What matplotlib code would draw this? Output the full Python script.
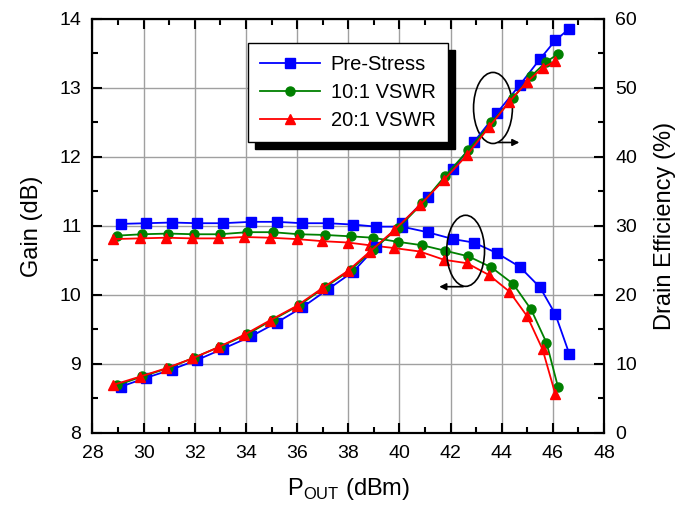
import matplotlib
matplotlib.use("Agg")
import matplotlib.pyplot as plt
from matplotlib.patches import Ellipse, Rectangle
from matplotlib.ticker import MultipleLocator

plt.rcParams['font.family'] = ['Liberation Sans', 'DejaVu Sans']
plt.rcParams['mathtext.fontset'] = 'custom'
plt.rcParams['mathtext.rm'] = 'Liberation Sans'

# Pre-Stress
pre_pout = [29.1, 30.1, 31.1, 32.1, 33.1, 34.2, 35.2, 36.2, 37.2, 38.2,
            39.1, 40.1, 41.1, 42.1, 42.9, 43.8, 44.7, 45.5, 46.1, 46.65]
pre_gain = [11.03, 11.04, 11.05, 11.04, 11.04, 11.06, 11.06, 11.04, 11.04, 11.02,
            10.99, 10.99, 10.91, 10.81, 10.76, 10.61, 10.41, 10.11, 9.72, 9.14]
pre_eff = [6.7, 8.0, 9.2, 10.6, 12.2, 14.0, 16.0, 18.2, 20.8, 23.4,
           27.0, 30.4, 34.2, 38.2, 42.1, 46.3, 50.4, 54.2, 56.9, 58.6]

# 10:1 VSWR
v10_pout = [28.95, 29.95, 30.96, 31.96, 32.98, 34.05, 35.04, 36.08, 37.08, 38.09,
            38.95, 39.95, 40.9, 41.8, 42.7, 43.6, 44.45, 45.15, 45.75, 46.2]
v10_gain = [10.86, 10.88, 10.89, 10.88, 10.88, 10.91, 10.91, 10.88, 10.87, 10.85,
            10.83, 10.77, 10.72, 10.64, 10.56, 10.40, 10.16, 9.79, 9.31, 8.67]
v10_eff = [6.9, 8.2, 9.4, 10.9, 12.5, 14.3, 16.4, 18.5, 21.1, 23.6,
           26.5, 29.7, 33.3, 37.3, 41.0, 45.0, 48.6, 51.7, 53.8, 54.9]

# 20:1 VSWR
v20_pout = [28.8, 29.85, 30.87, 31.9, 32.9, 33.92, 34.93, 35.98, 36.99, 37.99,
            38.85, 39.8, 40.8, 41.75, 42.65, 43.5, 44.3, 45.0, 45.6, 46.1]
v20_gain = [10.81, 10.82, 10.83, 10.82, 10.82, 10.84, 10.83, 10.81, 10.78, 10.76,
            10.72, 10.68, 10.63, 10.51, 10.46, 10.29, 10.05, 9.69, 9.21, 8.56]
v20_eff = [6.96, 8.16, 9.37, 10.8, 12.4, 14.2, 16.3, 18.4, 21.0, 23.5,
           26.3, 29.4, 33.0, 36.7, 40.3, 44.3, 48.0, 50.9, 52.9, 53.9]

fig = plt.figure(figsize=(6.82, 5.12), dpi=100)
ax = fig.add_axes([0.1356, 0.1543, 0.7500, 0.8087])
ax2 = ax.twinx()

lw = 1.3
ms = 6.5
ax.plot(pre_pout, pre_gain, '-s', color='#0000ff', lw=lw, ms=ms)
ax.plot(v10_pout, v10_gain, '-o', color='#008000', lw=lw, ms=ms)
ax.plot(v20_pout, v20_gain, '-^', color='#ff0000', lw=lw, ms=ms + 1)

l1, = ax2.plot(pre_pout, pre_eff, '-s', color='#0000ff', lw=lw, ms=ms, label='Pre-Stress')
l2, = ax2.plot(v10_pout, v10_eff, '-o', color='#008000', lw=lw, ms=ms, label='10:1 VSWR')
l3, = ax2.plot(v20_pout, v20_eff, '-^', color='#ff0000', lw=lw, ms=ms + 1, label='20:1 VSWR')

ax.set_xlim(28, 48)
ax.set_ylim(8, 14)
ax2.set_ylim(0, 60)
ax.xaxis.set_major_locator(MultipleLocator(2))
ax.xaxis.set_minor_locator(MultipleLocator(1))
ax.yaxis.set_major_locator(MultipleLocator(1))
ax.yaxis.set_minor_locator(MultipleLocator(0.5))
ax2.yaxis.set_major_locator(MultipleLocator(10))
ax2.yaxis.set_minor_locator(MultipleLocator(5))

ax.grid(True, which='major', color='#a0a0a0', lw=1.0)
ax.set_axisbelow(True)

for a in (ax, ax2):
    for s in a.spines.values():
        s.set_linewidth(1.5)
ax.tick_params(which='both', direction='in', top=True, labelsize=14, width=1.5)
ax.tick_params(which='major', length=7)
ax.tick_params(which='minor', length=4)
ax.tick_params(axis='x', which='both', pad=9)
ax.tick_params(axis='y', which='both', pad=8)
ax2.tick_params(which='both', direction='in', labelsize=14, width=1.5, pad=8)
ax2.tick_params(which='major', length=7)
ax2.tick_params(which='minor', length=4)

ax.set_xlabel(r'P$_{\mathrm{OUT}}$ (dBm)', fontsize=17, labelpad=10)
ax.set_ylabel('Gain (dB)', fontsize=17, labelpad=12)
ax2.set_ylabel('Drain Efficiency (%)', fontsize=17, labelpad=12)

# ellipses with arrows pointing to the axis each curve group uses
ax.add_patch(Ellipse((43.66, 12.71), 1.52, 1.03, fill=False, ec='black', lw=1.2, zorder=5))
ax.annotate('', xy=(44.8, 12.21), xytext=(43.75, 12.21),
            arrowprops=dict(arrowstyle='-|>', color='black', lw=1.2, mutation_scale=10))
ax.add_patch(Ellipse((42.59, 10.64), 1.48, 1.03, fill=False, ec='black', lw=1.2, zorder=5))
ax.annotate('', xy=(41.45, 10.12), xytext=(42.6, 10.12),
            arrowprops=dict(arrowstyle='-|>', color='black', lw=1.2, mutation_scale=10))

leg = ax2.legend(handles=[l1, l2, l3], loc='upper left', bbox_to_anchor=(0.304, 0.942),
                 fontsize=14.5, frameon=True, fancybox=False, framealpha=1,
                 edgecolor='black', handlelength=3.0, borderpad=0.6,
                 labelspacing=0.45, handletextpad=0.5, borderaxespad=0)
leg.get_frame().set_linewidth(1.0)
leg.set_zorder(10)

# black drop shadow behind legend
fig.canvas.draw()
bb = leg.get_window_extent().transformed(ax2.transAxes.inverted())
dx = 7 / (ax.get_position().width * fig.bbox.width)
dy = 7 / (ax.get_position().height * fig.bbox.height)
ax2.add_patch(Rectangle((bb.x0 + dx, bb.y0 - dy), bb.width, bb.height,
                        transform=ax2.transAxes, color='black', zorder=9, clip_on=False))

fig.savefig('out.png', dpi=100)
